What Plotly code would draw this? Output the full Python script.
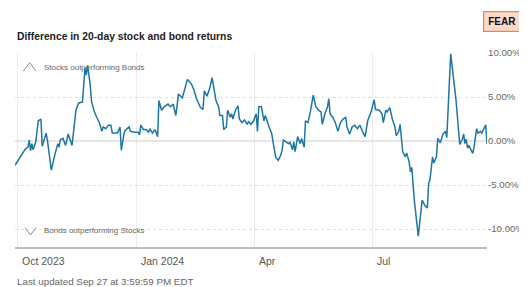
import plotly.graph_objects as go

dates = [
    "2023-09-29","2023-10-02","2023-10-03","2023-10-05","2023-10-07","2023-10-09","2023-10-10","2023-10-11",
    "2023-10-12","2023-10-13","2023-10-15","2023-10-17","2023-10-19","2023-10-20","2023-10-23","2023-10-24",
    "2023-10-27","2023-10-30","2023-11-01","2023-11-02","2023-11-03","2023-11-05","2023-11-07","2023-11-09",
    "2023-11-10","2023-11-12","2023-11-15","2023-11-17","2023-11-19","2023-11-20","2023-11-22","2023-11-23",
    "2023-11-24","2023-11-26","2023-11-27","2023-11-29","2023-12-01","2023-12-03","2023-12-05","2023-12-06",
    "2023-12-08","2023-12-10","2023-12-12","2023-12-13","2023-12-16","2023-12-17","2023-12-19","2023-12-20",
    "2023-12-22","2023-12-23","2023-12-26","2023-12-27","2023-12-30","2024-01-02","2024-01-03","2024-01-04",
    "2024-01-06","2024-01-08","2024-01-10","2024-01-11","2024-01-13","2024-01-15","2024-01-17","2024-01-18",
    "2024-01-20","2024-01-22","2024-01-25","2024-01-27","2024-01-29","2024-01-31","2024-02-01","2024-02-02",
    "2024-02-05","2024-02-09","2024-02-12","2024-02-14","2024-02-16","2024-02-17","2024-02-19","2024-02-21",
    "2024-02-22","2024-02-24","2024-02-26","2024-02-28","2024-03-01","2024-03-02","2024-03-04","2024-03-05",
    "2024-03-07","2024-03-08","2024-03-10","2024-03-11","2024-03-13","2024-03-14","2024-03-15","2024-03-17",
    "2024-03-19","2024-03-20","2024-03-22","2024-03-24","2024-03-26","2024-03-27","2024-03-29","2024-03-31",
    "2024-04-02","2024-04-03","2024-04-04","2024-04-06","2024-04-08","2024-04-09","2024-04-12","2024-04-14",
    "2024-04-15","2024-04-17","2024-04-19","2024-04-21","2024-04-22","2024-04-23","2024-04-25","2024-04-27",
    "2024-04-28","2024-04-30","2024-05-01","2024-05-02","2024-05-04","2024-05-06","2024-05-07","2024-05-09",
    "2024-05-10","2024-05-12","2024-05-14","2024-05-16","2024-05-18","2024-05-20","2024-05-22","2024-05-23",
    "2024-05-25","2024-05-27","2024-05-28","2024-05-29","2024-05-31","2024-06-02","2024-06-04","2024-06-06",
    "2024-06-08","2024-06-10","2024-06-11","2024-06-13","2024-06-15","2024-06-17","2024-06-19","2024-06-21",
    "2024-06-23","2024-06-25","2024-06-27","2024-06-28","2024-06-30","2024-07-02","2024-07-03","2024-07-06",
    "2024-07-08","2024-07-09","2024-07-11","2024-07-12","2024-07-14","2024-07-16","2024-07-18","2024-07-19",
    "2024-07-21","2024-07-22","2024-07-24","2024-07-26","2024-07-27","2024-07-29","2024-07-30","2024-07-31",
    "2024-08-02","2024-08-05","2024-08-08","2024-08-10","2024-08-12","2024-08-13","2024-08-14","2024-08-16",
    "2024-08-17","2024-08-19","2024-08-20","2024-08-22","2024-08-24","2024-08-26","2024-08-27","2024-08-30",
    "2024-09-02","2024-09-03","2024-09-06","2024-09-08","2024-09-09","2024-09-10","2024-09-11","2024-09-12",
    "2024-09-13","2024-09-16","2024-09-17","2024-09-19","2024-09-20","2024-09-22","2024-09-23","2024-09-26",
    "2024-09-27",
]

diff_pct = [
    -2.75,-2.1,-1.9,-1.4,-0.9,-0.7,0.1,-1.1,
    -0.3,-1.0,-0.1,2.3,2.5,-0.6,0.9,0.1,
    -3.3,-1.4,-0.3,-0.7,0.15,0.3,-0.5,0.8,
    0.4,-0.5,3.5,4.3,4.4,4.4,8.3,7.5,
    8.6,6.4,4.5,3.4,2.7,2.1,1.1,1.6,
    1.4,1.8,1.8,0.9,0.9,0.9,1.6,-1.05,
    0.8,1.2,1.6,1.1,1.0,1.0,0.7,1.8,
    1.3,1.3,1.0,1.4,0.9,1.3,0.5,4.6,
    3.5,3.9,4.2,3.9,4.2,2.9,4.0,5.35,
    4.9,7.0,6.5,5.8,4.8,4.4,3.8,3.6,
    5.7,5.1,5.9,7.2,5.1,4.6,3.9,2.9,
    2.9,1.3,1.6,3.5,2.7,3.1,2.5,3.5,
    4.0,2.5,2.1,2.4,1.9,2.2,1.9,2.3,
    3.1,1.1,3.9,3.9,2.3,2.9,1.6,0.8,
    -0.1,-1.8,-2.2,-1.6,-1.0,0.1,-0.1,-0.3,
    -0.1,-1.0,-0.1,-1.2,0.5,-0.3,0.3,-0.7,
    2.3,2.1,3.5,5.2,3.9,3.5,3.3,1.9,
    3.1,3.9,4.8,3.1,2.7,2.1,1.1,2.1,
    2.5,2.7,1.6,0.8,1.6,1.8,1.4,1.8,
    1.1,0.5,2.3,2.7,3.5,4.7,3.6,3.5,
    3.1,2.1,3.5,3.3,3.8,2.5,1.6,0.6,
    1.1,1.9,-1.2,-1.8,-1.35,-2.4,-3.5,-3.0,
    -6.8,-10.8,-6.7,-7.3,-7.6,-4.8,-4.4,-1.8,
    -2.5,-1.8,0.3,-0.2,0.8,1.1,0.4,9.9,
    6.0,4.8,-0.4,0.2,0.8,-0.3,0.2,-0.8,
    -0.5,-1.4,-0.7,1.4,0.9,1.1,0.9,1.85,
    -0.3,
]

y_tick_vals = [10, 5, 0, -5, -10]
y_tick_text = ["10.00%", "5.00%", "0.00%", "-5.00%", "-10.00%"]
x_tick_vals = ["2023-10-01", "2024-01-01", "2024-04-01", "2024-07-01"]
x_tick_text = ["Oct 2023", "Jan 2024", "Apr", "Jul"]

title_text = "Difference in 20-day stock and bond returns"
top_note = "Stocks outperforming Bonds"
bottom_note = "Bonds outperforming Stocks"
updated_text = "Last updated Sep 27 at 3:59:59 PM EDT"
badge_text = "FEAR"

FONT = "Liberation Sans, Arial, sans-serif"

fig = go.Figure()
fig.add_trace(go.Scatter(
    x=dates, y=diff_pct, mode="lines",
    line=dict(color="#1d76a4", width=1.5),
    hoverinfo="skip", showlegend=False,
))

annotations = []
for v, t in zip(x_tick_vals, x_tick_text):
    annotations.append(dict(
        x=v, xref="x", y=-0.072, yref="paper", text=t, showarrow=False,
        xanchor="left", yanchor="middle", xshift=2,
        font=dict(family=FONT, size=10.5, color="#555555"),
    ))
annotations += [
    dict(x=0, xref="paper", y=1.0876, yref="paper", text="<b>" + title_text + "</b>",
         showarrow=False, xanchor="left", yanchor="middle",
         font=dict(family=FONT, size=10.3, color="#222222")),
    dict(x=1.0318, xref="paper", y=1.1624, yref="paper", text="<b>" + badge_text + "</b>",
         showarrow=False, xanchor="center", yanchor="middle",
         bgcolor="#fbd9c9", bordercolor="#e8864e", borderwidth=1.2, borderpad=4,
         font=dict(family=FONT, size=10, color="#111111")),
    dict(x=0.0572, xref="paper", y=0.923, yref="paper", text=top_note,
         showarrow=False, xanchor="left", yanchor="middle",
         font=dict(family=FONT, size=8, color="#666666")),
    dict(x=0.0572, xref="paper", y=0.0825, yref="paper", text=bottom_note,
         showarrow=False, xanchor="left", yanchor="middle",
         font=dict(family=FONT, size=8, color="#666666")),
    dict(x=0, xref="paper", y=-0.18, yref="paper", text=updated_text,
         showarrow=False, xanchor="left", yanchor="middle",
         font=dict(family=FONT, size=9.8, color="#666666")),
]

shapes = [
    dict(type="path", xref="paper", yref="paper",
         path="M 0.0176 0.907 L 0.031 0.950 L 0.0445 0.907",
         line=dict(color="#8a8a8a", width=1)),
    dict(type="path", xref="paper", yref="paper",
         path="M 0.0212 0.0995 L 0.0328 0.0619 L 0.0445 0.0995",
         line=dict(color="#8a8a8a", width=1)),
]

fig.update_layout(
    width=519, height=279,
    margin=dict(l=7, r=40, t=45, b=40),
    paper_bgcolor="white", plot_bgcolor="white",
    font=dict(family=FONT),
    annotations=annotations, shapes=shapes,
    xaxis=dict(
        type="date", range=["2023-09-29", "2024-09-27"],
        tickvals=x_tick_vals, showticklabels=False,
        showgrid=True, gridcolor="#ececec", gridwidth=1,
        showline=True, linecolor="#bdbdbd", linewidth=2,
        zeroline=False, ticks="", automargin=False,
    ),
    yaxis=dict(
        range=[-12.04, 10], side="right",
        tickvals=y_tick_vals, ticktext=y_tick_text,
        tickfont=dict(family=FONT, size=9.7, color="#666666"),
        showgrid=True, gridcolor="#dedede", griddash="dot", gridwidth=1,
        zeroline=True, zerolinecolor="#e6e6e6", zerolinewidth=1.5,
        showline=False, ticks="", ticklabelstandoff=0, automargin=False,
    ),
)

fig.write_html("out.html")
